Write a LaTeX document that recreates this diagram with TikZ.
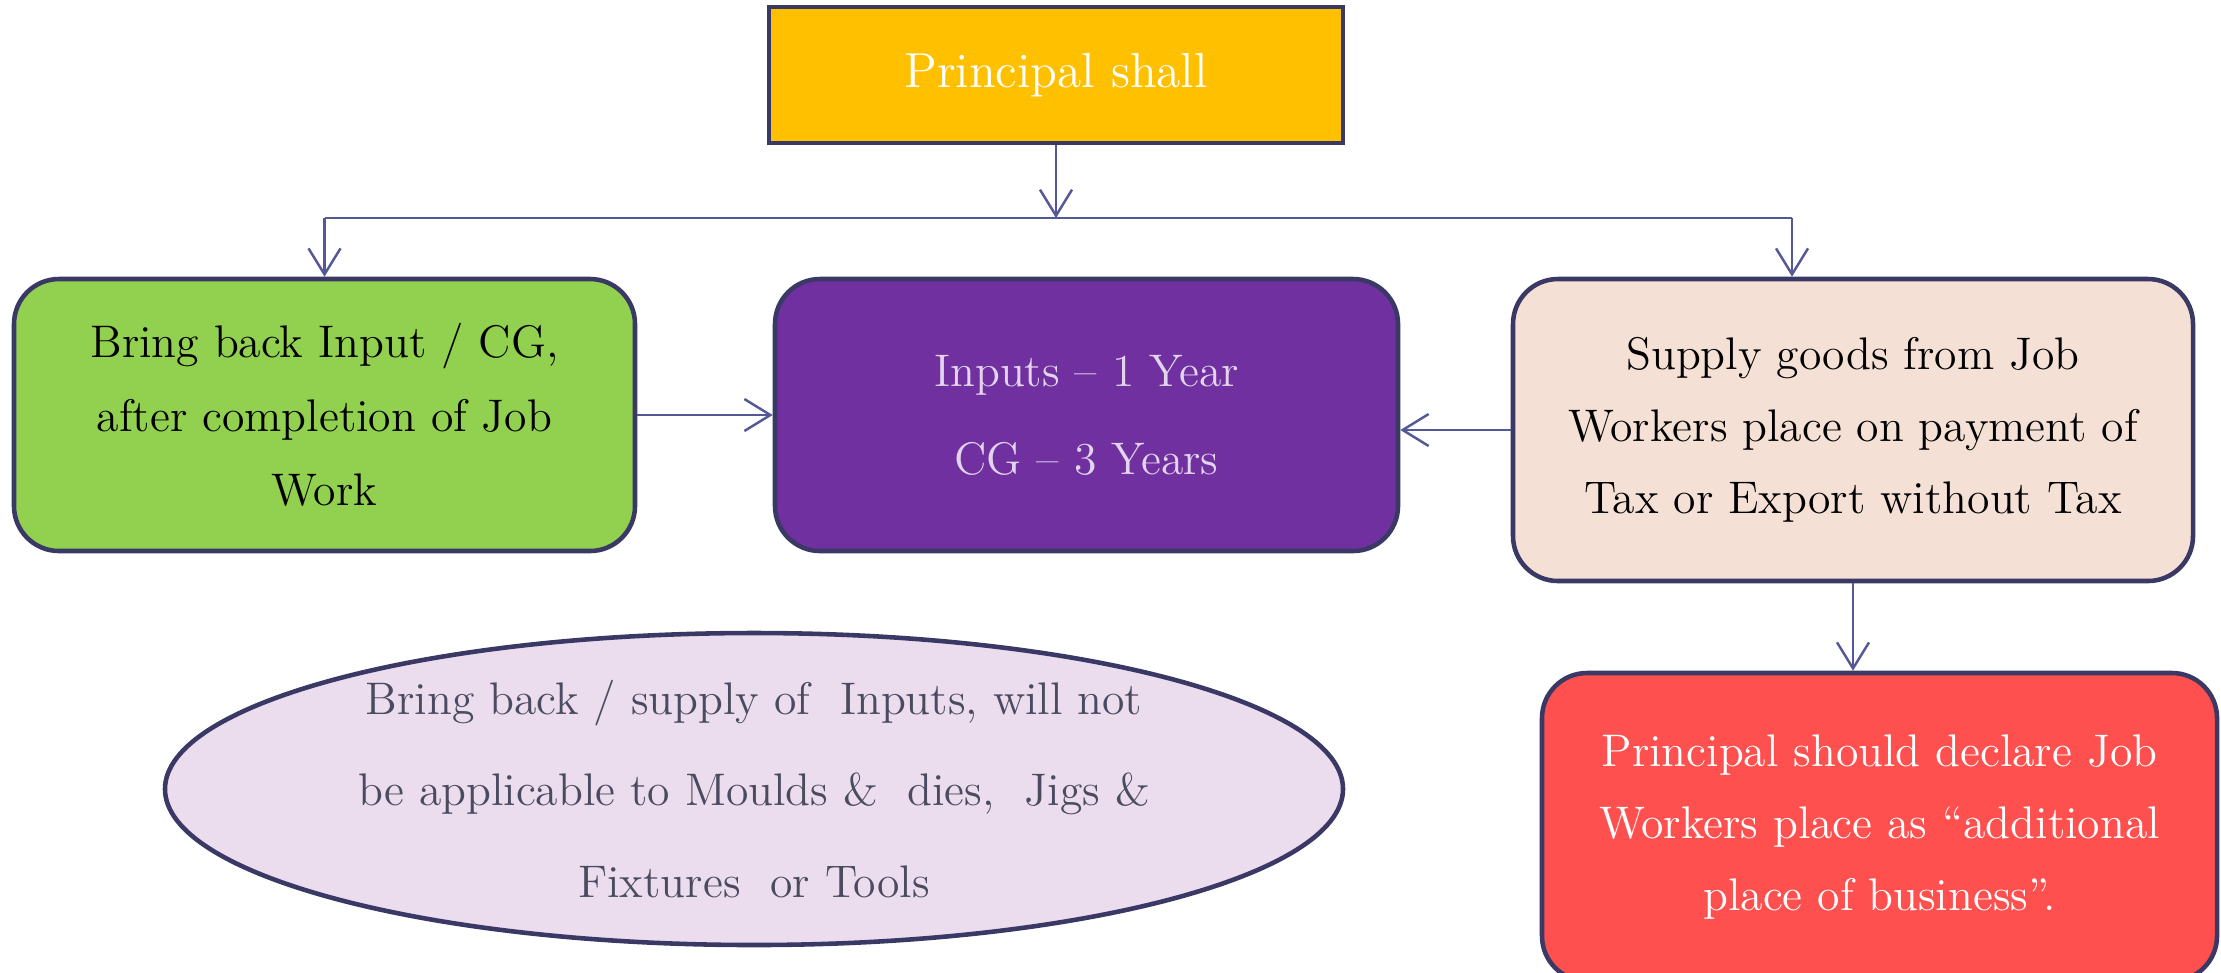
\documentclass[tikz,border=0pt]{standalone}
\usepackage[svgnames]{xcolor}
\usetikzlibrary{arrows.meta,shapes.geometric}
\definecolor{edgeblue}{RGB}{85,88,150}
\definecolor{boxline}{RGB}{58,56,100}
\definecolor{topfill}{RGB}{255,192,0}
\definecolor{greenfill}{RGB}{146,208,80}
\definecolor{purplefill}{RGB}{112,48,160}
\definecolor{lavtext}{RGB}{226,212,236}
\definecolor{peachfill}{RGB}{244,224,212}
\definecolor{redfill}{RGB}{255,80,80}
\definecolor{ellfill}{RGB}{235,220,238}
\definecolor{elltext}{RGB}{75,75,95}

\begin{document}
\begin{tikzpicture}[-{Straight Barb[length=2.6mm,width=3.2mm]}, color=edgeblue, line width=0.7pt,
      every node/.append style={align=center,font=\fontsize{13}{21}\selectfont}]
    \tikzstyle{box} = [draw=boxline, line width=1.3pt, rounded corners=4.5mm, inner sep=0pt,
      minimum height=2.72cm, text=black]
    \useasboundingbox (0,0) rectangle (22.21,-9.72);
    \node (principal) [box, rounded corners=0pt, fill=topfill, text=white, minimum width=5.74cm,
      minimum height=1.36cm, font=\fontsize{14}{17}\selectfont] at (10.56,-0.75) {Principal shall};
    \node (bringback) [box, fill=greenfill, minimum width=6.21cm] at (3.245,-4.15)
      {Bring back Input / CG,\\after completion of Job\\Work};
    \node (period) [box, fill=purplefill, text=lavtext, minimum width=6.23cm,
      font=\fontsize{13}{25}\selectfont] at (10.865,-4.15) {Inputs -- 1 Year\\CG -- 3 Years};
    \node (supply) [box, fill=peachfill, minimum width=6.80cm, minimum height=3.02cm,
      font=\fontsize{13}{20.5}\selectfont] at (18.53,-4.30)
      {Supply goods from Job\\Workers place on payment of\\Tax or Export without Tax};
    \node (declare) [box, fill=redfill, text=white, minimum width=6.75cm, minimum height=3.08cm,
      font=\fontsize{13}{20.5}\selectfont] at (18.795,-8.27)
      {Principal should declare Job\\Workers place as ``additional\\place of business''.};
    \node (moulds) [ellipse, draw=boxline, line width=1.3pt, fill=ellfill, text=elltext,
      minimum width=11.78cm, minimum height=3.12cm, inner sep=0pt,
      font=\fontsize{13}{26}\selectfont] at (7.54,-7.89)
      {Bring back / supply of~ Inputs, will not\\be applicable to Moulds \&~ dies,~ Jigs \&\\Fixtures~ or Tools};
    \coordinate (busL) at (3.245,-2.18);
    \coordinate (busR) at (17.92,-2.18);
    \draw (principal.south) -- (principal.south |- busL);
    \draw[-] (busL) -- (busR);
    \draw (busL) -- (bringback.north);
    \draw (busR) -- (busR |- supply.north);
    \draw (bringback.east) -- (period.west);
    \draw (supply.west) -- (supply.west -| period.east);
    \draw (supply.south) -- (supply.south |- declare.north);
\end{tikzpicture}
\end{document}
